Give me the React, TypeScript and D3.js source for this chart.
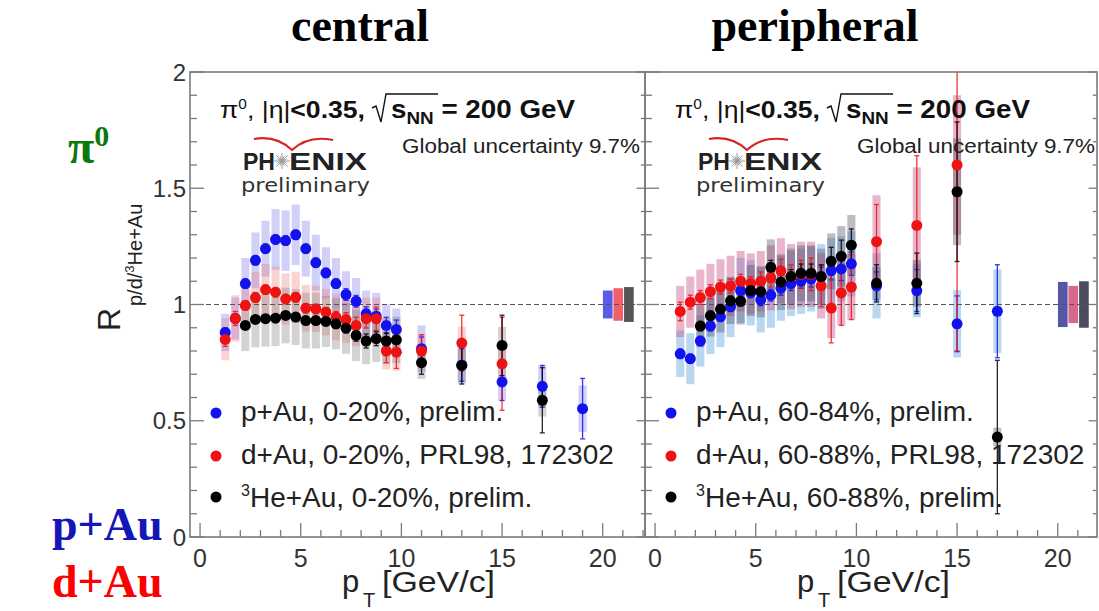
import React from 'react';
import * as d3 from 'd3';

// ---------- data ----------
const pT = [1.25, 1.75, 2.25, 2.75, 3.25, 3.75, 4.25, 4.75, 5.25, 5.75, 6.25, 6.75, 7.25, 7.75, 8.25, 8.75, 9.25, 9.75, 11, 13, 15, 17, 19];

// central
const pAuCentral = [0.88, 0.94, 1.09, 1.19, 1.24, 1.28, 1.275, 1.30, 1.24, 1.18, 1.136, 1.09, 1.043, 1.014, 0.96, 0.95, 0.91, 0.893, 0.81, 0.74, 0.667, 0.648, 0.552];
const pAuCentralStat = [0.02, 0.02, 0.02, 0.02, 0.02, 0.02, 0.02, 0.02, 0.02, 0.02, 0.02, 0.02, 0.025, 0.025, 0.03, 0.03, 0.035, 0.04, 0.05, 0.07, 0.08, 0.09, 0.13];
const pAuCentralSys = [0.08, 0.09, 0.11, 0.12, 0.12, 0.13, 0.13, 0.13, 0.12, 0.12, 0.11, 0.11, 0.10, 0.10, 0.10, 0.10, 0.09, 0.09, 0.10, 0.08, 0.08, 0.09, 0.10];

const dAuCentral = [0.85, 0.94, 0.996, 1.03, 1.064, 1.053, 1.024, 1.031, 0.984, 0.981, 0.967, 0.946, 0.935, 0.91, 0.939, 0.939, 0.80, 0.795, 0.80, 0.834, 0.745, null, null];
const dAuCentralStat = [0.03, 0.03, 0.02, 0.02, 0.02, 0.02, 0.02, 0.02, 0.02, 0.02, 0.02, 0.025, 0.03, 0.035, 0.04, 0.05, 0.05, 0.07, 0.07, 0.12, 0.2, null, null];
const dAuCentralSys = [0.09, 0.10, 0.10, 0.11, 0.11, 0.11, 0.11, 0.11, 0.10, 0.10, 0.10, 0.10, 0.10, 0.09, 0.09, 0.09, 0.08, 0.08, 0.07, 0.07, 0.07, null, null];

const heAuCentral = [null, null, 0.91, 0.936, 0.939, 0.941, 0.953, 0.946, 0.931, 0.931, 0.927, 0.917, 0.898, 0.867, 0.843, 0.853, 0.843, 0.848, 0.75, 0.738, 0.824, 0.588, null];
const heAuCentralStat = [null, null, 0.01, 0.01, 0.01, 0.01, 0.01, 0.01, 0.015, 0.015, 0.015, 0.02, 0.02, 0.025, 0.03, 0.03, 0.035, 0.04, 0.05, 0.08, 0.13, 0.14, null];
const heAuCentralSys = [null, null, 0.11, 0.12, 0.12, 0.12, 0.12, 0.12, 0.12, 0.12, 0.11, 0.11, 0.11, 0.11, 0.10, 0.10, 0.10, 0.10, 0.07, 0.07, 0.08, 0.07, null];

// peripheral
const pAuPeriph = [0.788, 0.767, 0.843, 0.907, 0.947, 0.99, 1.06, 1.05, 1.02, 1.04, 1.07, 1.09, 1.10, 1.11, 1.12, 1.146, 1.153, 1.175, 1.08, 1.06, 0.917, 0.971, null];
const pAuPeriphStat = [0.02, 0.02, 0.02, 0.02, 0.02, 0.02, 0.02, 0.02, 0.025, 0.025, 0.03, 0.03, 0.03, 0.035, 0.04, 0.04, 0.05, 0.05, 0.06, 0.09, 0.12, 0.2, null];
const pAuPeriphSys = [0.10, 0.11, 0.11, 0.12, 0.13, 0.13, 0.14, 0.14, 0.14, 0.14, 0.14, 0.14, 0.14, 0.14, 0.14, 0.14, 0.14, 0.14, 0.14, 0.115, 0.145, 0.18, null];

const dAuPeriph = [0.97, 1.01, 1.03, 1.055, 1.075, 1.08, 1.10, 1.09, 1.10, 1.115, 1.145, 1.12, 1.13, 1.13, 1.08, 0.985, 1.05, 1.075, 1.27, 1.34, 1.60, null, null];
const dAuPeriphStat = [0.04, 0.03, 0.03, 0.03, 0.03, 0.03, 0.03, 0.03, 0.04, 0.04, 0.05, 0.05, 0.06, 0.07, 0.09, 0.15, 0.14, 0.14, 0.16, 0.30, 0.80, null, null];
const dAuPeriphSys = [0.11, 0.11, 0.12, 0.12, 0.12, 0.13, 0.13, 0.13, 0.13, 0.14, 0.14, 0.14, 0.14, 0.14, 0.14, 0.13, 0.14, 0.14, 0.20, 0.25, 0.30, null, null];

const heAuPeriph = [null, null, 0.907, 0.952, 0.98, 1.016, 1.014, 1.06, 1.055, 1.16, 1.096, 1.12, 1.134, 1.134, 1.12, 1.186, 1.207, 1.255, 1.091, 1.091, 1.485, 0.43, null];
const heAuPeriphStat = [null, null, 0.02, 0.02, 0.02, 0.02, 0.02, 0.02, 0.03, 0.03, 0.03, 0.03, 0.04, 0.04, 0.05, 0.06, 0.07, 0.07, 0.08, 0.13, 0.30, 0.33, null];
const heAuPeriphSys = [null, null, 0.09, 0.09, 0.10, 0.10, 0.10, 0.11, 0.11, 0.12, 0.12, 0.12, 0.12, 0.12, 0.12, 0.12, 0.13, 0.13, 0.07, 0.10, 0.23, 0.04, null];

// global uncertainty boxes (p+Au, d+Au, 3He+Au)
const globalPt = [20.25, 20.77, 21.3];
const globalCentral = [0.06, 0.07, 0.075];
const globalPeriph = [0.097, 0.08, 0.10];

const legendCentral = ['p+Au, 0-20%, prelim.', 'd+Au, 0-20%, PRL98, 172302', 'He+Au, 0-20%, prelim.'];
const legendPeriph = ['p+Au, 60-84%, prelim.', 'd+Au, 60-88%, PRL98, 172302', 'He+Au, 60-88%, prelim.'];

const yTicks = [0, 0.5, 1, 1.5, 2];
const yTickLabels = ['0', '0.5', '1', '1.5', '2'];
const xTicks = [0, 5, 10, 15, 20];

// ---------- layout ----------
const W = 1099;
const H = 611;
const Y_TOP = 72;
const Y_BOT = 537;
const SANS = "'Liberation Sans', Arial, Helvetica, sans-serif";
const SERIF = "'Liberation Serif', 'Times New Roman', serif";

const yScale = d3.scaleLinear().domain([0, 2]).range([Y_BOT, Y_TOP]);

type Series = {
  vals: (number | null)[];
  stat: (number | null)[];
  sys: (number | null)[];
  color: string;
  box: string;
};

type PanelProps = {
  id: string;
  x0: number;
  x1: number;
  xMax: number;
  series: Series[];
  globals: number[];
  globalColors: string[];
  legend: string[];
  showYLabels: boolean;
};

function Panel({ id, x0, x1, xMax, series, globals, globalColors, legend, showYLabels }: PanelProps) {
  const xs = d3.scaleLinear().domain([-0.5, xMax]).range([x0, x1]);
  const ys = yScale;
  const off = x0 - 190;
  const halfW = 0.2;
  const minorY = d3.range(0, 2.0001, 0.1);
  const minorX = d3.range(0, Math.floor(xMax) + 0.001, 1);
  const frame = '#7a7a7a';

  return (
    <g>
      <defs>
        <clipPath id={`clip-${id}`}>
          <rect x={x0} y={Y_TOP} width={x1 - x0} height={Y_BOT - Y_TOP} />
        </clipPath>
      </defs>
      <g clipPath={`url(#clip-${id})`}>
        {/* systematic boxes */}
        {series.map((s, si) =>
          pT.map((p, i) => {
            const v = s.vals[i];
            const e = s.sys[i];
            if (v == null || e == null) return null;
            return (
              <rect key={`b${si}-${i}`} x={xs(p - halfW)} width={xs(p + halfW) - xs(p - halfW)}
                y={ys(v + e)} height={ys(v - e) - ys(v + e)} fill={s.box} />
            );
          })
        )}
        {/* global boxes */}
        {globals.map((g, i) => (
          <rect key={`g${i}`} x={xs(globalPt[i] - 0.24)} width={xs(globalPt[i] + 0.24) - xs(globalPt[i] - 0.24)}
            y={ys(1 + g)} height={ys(1 - g) - ys(1 + g)} fill={globalColors[i]} />
        ))}
        {/* reference line */}
        <line x1={x0} x2={x1} y1={ys(1)} y2={ys(1)} stroke="#555" strokeWidth={1} strokeDasharray="5,3" />
        {/* stat error bars */}
        {series.map((s, si) =>
          pT.map((p, i) => {
            const v = s.vals[i];
            const e = s.stat[i];
            if (v == null || e == null) return null;
            const cx = xs(p);
            return (
              <g key={`e${si}-${i}`} stroke={s.color} strokeWidth={1.3} opacity={0.85}>
                <line x1={cx} x2={cx} y1={ys(v + e)} y2={ys(v - e)} />
                <line x1={cx - 2.5} x2={cx + 2.5} y1={ys(v + e)} y2={ys(v + e)} />
                <line x1={cx - 2.5} x2={cx + 2.5} y1={ys(v - e)} y2={ys(v - e)} />
              </g>
            );
          })
        )}
        {/* points */}
        {series.map((s, si) =>
          pT.map((p, i) => {
            const v = s.vals[i];
            if (v == null) return null;
            return <circle key={`p${si}-${i}`} cx={xs(p)} cy={ys(v)} r={5.5} fill={s.color} />;
          })
        )}
      </g>

      {/* frame */}
      <rect x={x0} y={Y_TOP} width={x1 - x0} height={Y_BOT - Y_TOP} fill="none" stroke={frame} strokeWidth={1.6} />
      {/* y ticks left and right */}
      {minorY.map((t, i) => {
        const major = Math.abs(t * 2 - Math.round(t * 2)) < 1e-6;
        const len = major ? 14 : 7;
        return (
          <g key={`yt${i}`} stroke={frame} strokeWidth={1.3}>
            <line x1={x0} x2={x0 + len} y1={ys(t)} y2={ys(t)} />
            <line x1={x1 - len * 0.6} x2={x1} y1={ys(t)} y2={ys(t)} />
          </g>
        );
      })}
      {/* x ticks */}
      {minorX.map((t, i) => {
        const major = t % 5 === 0;
        const len = major ? 14 : 7;
        return <line key={`xt${i}`} x1={xs(t)} x2={xs(t)} y1={Y_BOT} y2={Y_BOT - len} stroke={frame} strokeWidth={1.3} />;
      })}
      {xTicks.map((t) => (
        <text key={`xl${t}`} x={xs(t)} y={567} textAnchor="middle" fontFamily={SANS} fontSize={25} fill="#333">{t}</text>
      ))}
      {showYLabels && yTicks.map((t, i) => (
        <text key={`yl${t}`} x={186} y={ys(t)} dy="0.36em" textAnchor="end" fontFamily={SANS} fontSize={24} fill="#333">{yTickLabels[i]}</text>
      ))}

      {/* x axis title */}
      <text x={342 + off} y={592} fontFamily={SANS} fontSize={31} fill="#222">p</text>
      <text x={363 + off} y={607} fontFamily={SANS} fontSize={20} fill="#222">T</text>
      <text x={382 + off} y={592} fontFamily={SANS} fontSize={29} fill="#222" textLength={113} lengthAdjust="spacingAndGlyphs">[GeV/c]</text>

      {/* header label */}
      <text x={220 + off} y={118} fontFamily={SANS} fontSize={24} fill="#111" textLength={145} lengthAdjust="spacingAndGlyphs">
        <tspan>π</tspan>
        <tspan dy={-9} fontSize={14}>0</tspan>
        <tspan dy={9}>, |η|</tspan>
        <tspan fontWeight="bold">&lt;0.35,</tspan>
      </text>
      <path d={`M${372 + off},108 L${376 + off},106 L${381 + off},122 L${386 + off},94 L${438 + off},94`} fill="none" stroke="#111" strokeWidth={1.4} />
      <text x={391 + off} y={118} fontFamily={SANS} fontSize={25} fontWeight="bold" fill="#111" textLength={184} lengthAdjust="spacingAndGlyphs">
        <tspan>s</tspan>
        <tspan dy={6} fontSize={17}>NN</tspan>
        <tspan dy={-6}> = 200 GeV</tspan>
      </text>
      <text x={402 + off} y={153} fontFamily={SANS} fontSize={20} fill="#222" textLength={238} lengthAdjust="spacingAndGlyphs">Global uncertainty 9.7%</text>

      {/* PHENIX logo */}
      <path d={`M${254 + off},139 Q${276 + off},135 ${292 + off},150 Q${308 + off},135 ${333 + off},140`} fill="none" stroke="#d42424" strokeWidth={2.2} />
      <text x={243 + off} y={170} fontFamily={SANS} fontWeight="bold" fontSize={24} fill="#222" textLength={32} lengthAdjust="spacingAndGlyphs">PH</text>
      {d3.range(0, 16).map((k) => {
        const a = (k / 16) * Math.PI * 2;
        const r = k % 2 === 0 ? 8 : 5;
        return <line key={`st${k}`} x1={282 + off} y1={161} x2={282 + off + r * Math.cos(a)} y2={161 + r * Math.sin(a)} stroke="#9a9a9a" strokeWidth={1} />;
      })}
      <text x={289 + off} y={170} fontFamily={SANS} fontWeight="bold" fontSize={24} fill="#222" textLength={78} lengthAdjust="spacingAndGlyphs">ENIX</text>
      <text x={241 + off} y={192} fontFamily={"'DejaVu Sans', sans-serif"} fontSize={20} fill="#333" textLength={129} lengthAdjust="spacingAndGlyphs">preliminary</text>

      {/* legend */}
      {legend.map((l, i) => {
        const yb = [421, 464, 507][i];
        const ym = [413, 456, 497][i];
        return (
          <g key={`lg${i}`}>
            <circle cx={216 + off} cy={ym} r={5.5} fill={series[i].color} />
            {i === 2 ? (
              <text x={241 + off} y={yb} fontFamily={SANS} fontSize={28} fill="#222">
                <tspan fontSize={16} dy={-11}>3</tspan>
                <tspan dy={11}>{l}</tspan>
              </text>
            ) : (
              <text x={241 + off} y={yb} fontFamily={SANS} fontSize={28} fill="#222">{l}</text>
            )}
          </g>
        );
      })}
    </g>
  );
}

export default function App() {
  const centralSeries: Series[] = [
    { vals: pAuCentral, stat: pAuCentralStat, sys: pAuCentralSys, color: '#1212ee', box: 'rgba(110,110,235,0.32)' },
    { vals: dAuCentral, stat: dAuCentralStat, sys: dAuCentralSys, color: '#ee1212', box: 'rgba(240,110,110,0.30)' },
    { vals: heAuCentral, stat: heAuCentralStat, sys: heAuCentralSys, color: '#000000', box: 'rgba(120,120,120,0.33)' },
  ];
  const periphSeries: Series[] = [
    { vals: pAuPeriph, stat: pAuPeriphStat, sys: pAuPeriphSys, color: '#1212ee', box: 'rgba(90,160,225,0.42)' },
    { vals: dAuPeriph, stat: dAuPeriphStat, sys: dAuPeriphSys, color: '#ee1212', box: 'rgba(200,70,130,0.40)' },
    { vals: heAuPeriph, stat: heAuPeriphStat, sys: heAuPeriphSys, color: '#000000', box: 'rgba(80,80,95,0.38)' },
  ];

  return (
    <svg width={W} height={H} viewBox={`0 0 ${W} ${H}`} style={{ position: 'absolute', left: 0, top: 0, background: '#fff' }}>
      <rect x={0} y={0} width={W} height={H} fill="#fff" />
      {/* titles */}
      <text x={360} y={41} textAnchor="middle" fontFamily={SERIF} fontWeight="bold" fontSize={46} fill="#000">central</text>
      <text x={815} y={41} textAnchor="middle" fontFamily={SERIF} fontWeight="bold" fontSize={46} fill="#000">peripheral</text>
      {/* side labels */}
      <text x={68} y={163} fontFamily={SERIF} fontWeight="bold" fontSize={48} fill="#0b7a0b">
        <tspan>π</tspan>
        <tspan dy={-17} fontSize={30}>0</tspan>
      </text>
      <text x={52} y={540} fontFamily={SERIF} fontWeight="bold" fontSize={46} fill="#1515b8">p+Au</text>
      <text x={52} y={597} fontFamily={SERIF} fontWeight="bold" fontSize={46} fill="#ff0000">d+Au</text>

      {/* y axis title */}
      <g transform="translate(120,331) rotate(-90)">
        <text x={0} y={0} fontFamily={SANS} fontSize={32} fill="#222">R</text>
        <text x={25} y={22} fontFamily={SANS} fontSize={20} fill="#222">
          <tspan>p/d/</tspan>
          <tspan dy={-8} fontSize={13}>3</tspan>
          <tspan dy={8}>He+Au</tspan>
        </text>
      </g>

      <Panel id="c" x0={190} x1={645} xMax={22.1} series={centralSeries} globals={globalCentral}
        globalColors={['#5b5bea', '#f0606a', '#555555']} legend={legendCentral} showYLabels={true} />
      <Panel id="p" x0={645} x1={1097} xMax={21.95} series={periphSeries} globals={globalPeriph}
        globalColors={['#5656a8', '#d8688a', '#4c4c5c']} legend={legendPeriph} showYLabels={false} />
    </svg>
  );
}
